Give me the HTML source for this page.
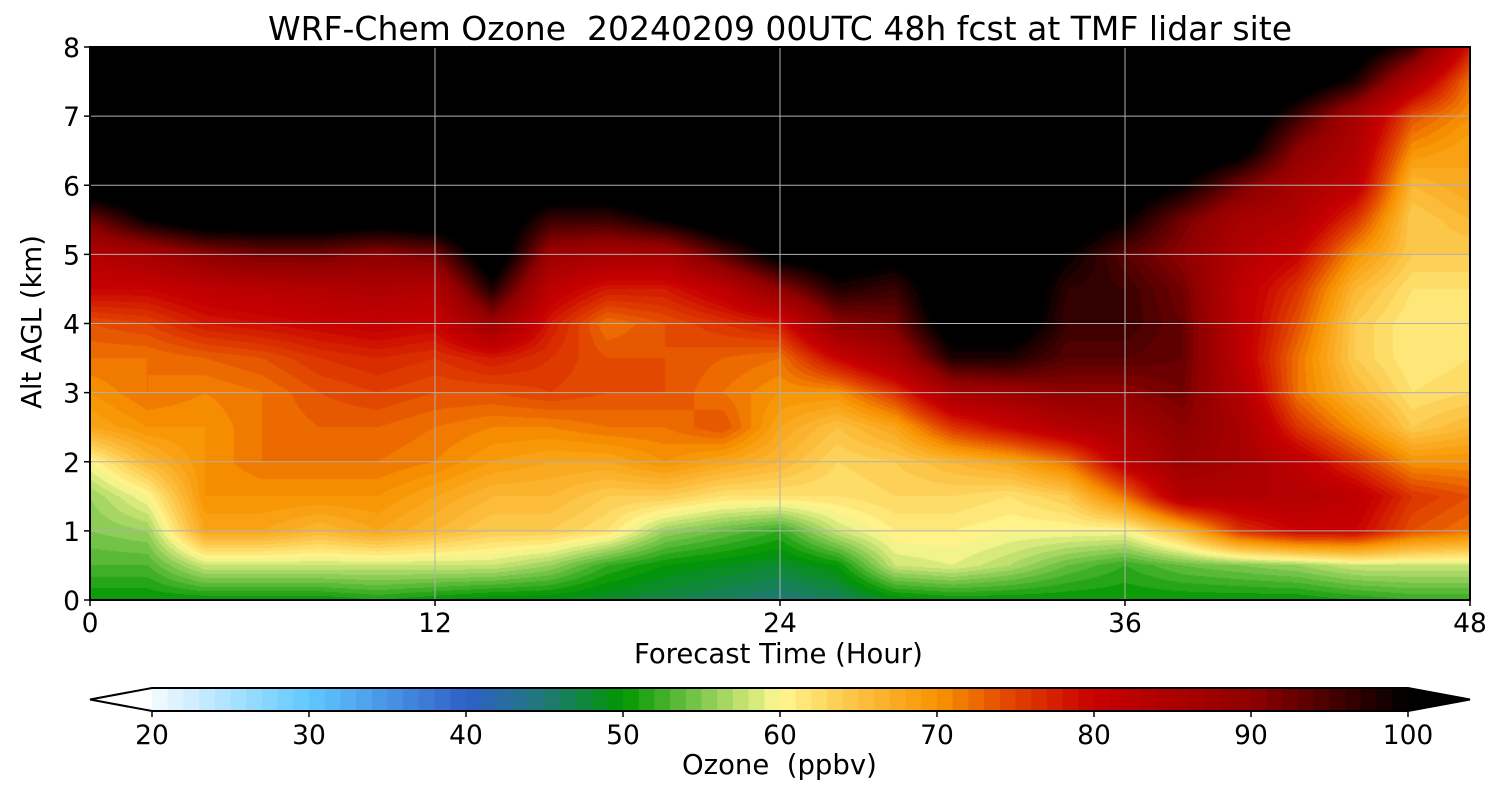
<!DOCTYPE html>
<html><head><meta charset="utf-8"><style>
body{margin:0;background:#fff;font-family:"DejaVu Sans","Liberation Sans",sans-serif;}
#wrap{position:relative;width:1500px;height:800px;overflow:hidden;}
.t{position:absolute;color:#000;white-space:nowrap;}
</style></head><body>
<div id="wrap">
<div class="t" style="left:0;width:1560px;top:9px;text-align:center;font-size:33px;">WRF-Chem Ozone&nbsp; 20240209 00UTC 48h fcst at TMF lidar site</div>
<canvas id="cv" width="1380" height="553" style="position:absolute;left:90px;top:47px;"></canvas>
<svg id="sv" width="1500" height="800" style="position:absolute;left:0;top:0;"></svg>
<div class="t" style="left:634px;top:638px;font-size:27.5px;">Forecast Time (Hour)</div>
<div class="t" style="left:-55px;top:306px;font-size:27.5px;transform:rotate(-90deg);">Alt AGL (km)</div>
<div class="t" style="left:682px;top:749px;font-size:27.5px;">Ozone&nbsp; (ppbv)</div>
</div>
<script>
const hours=[0,2,4,6,8,10,12,14,16,18,20,22,24,26,28,30,32,34,36,38,40,42,44,46,48];
const alts=[0,0.5,1,1.5,2,2.5,3,3.5,4,4.5,5,5.5,6,6.5,7,7.5,8];
const B=105;
const ozone=[
[50,53,55,56,60,68,70,72,74,80,84,92,B,B,B,B,B],
[50,53,56,60,66,70,72,72,75,80,86,100,B,B,B,B,B],
[50,58,68,70,70,70,71,73,78,82,90,104,B,B,B,B,B],
[50,58,68,70,72,72,72,74,79,83,92,104,B,B,B,B,B],
[50,58,66,70,72,73,74,76,80,84,92,104,B,B,B,B,B],
[51,58,68,70,72,73,75,77,81,85,90,103,B,B,B,B,B],
[50,58,66,68,71,72,74,76,80,84,92,104,B,B,B,B,B],
[49,58,64,66,69,71,74,78,88,98,B,B,B,B,B,B,B],
[49,56,64,66,68,71,75,76,78,82,88,96,B,B,B,B,B],
[48,52,62,64,68,72,74,74,72,78,86,96,B,B,B,B,B],
[47,50,56,64,70,72,74,74,74,78,86,100,B,B,B,B,B],
[46,49,54,62,68,74,72,73,76,82,94,B,B,B,B,B,B],
[45,48,52,62,66,68,70,72,78,90,102,B,B,B,B,B,B],
[46,50,58,62,63,65,70,80,90,98,104,B,B,B,B,B,B],
[49,58,61,63,64,68,76,86,92,96,102,B,B,B,B,B,B],
[50,59,61,63,66,76,86,98,104,B,B,B,B,B,B,B,B],
[50,57,60,62,68,80,88,98,104,B,B,B,B,B,B,B,B],
[50,54,60,64,72,84,90,94,96,97,100,104,B,B,B,B,B],
[50,52,60,72,82,86,90,94,96,96,94,100,104,B,B,B,B],
[50,54,66,84,88,90,92,93,93,92,90,92,100,B,B,B,B],
[50,55,76,84,86,86,84,82,82,82,84,86,92,102,B,B,B],
[50,56,80,84,82,76,72,72,74,76,80,84,86,90,96,104,B],
[51,58,80,82,76,70,66,64,64,66,70,76,82,84,86,98,104],
[52,58,74,76,70,64,62,61,61,62,64,64,66,70,74,84,96],
[52,58,72,74,70,66,63,62,62,62,64,66,68,68,70,72,78]];
const xTicks=[0,12,24,36,48];
const yTicks=[0,1,2,3,4,5,6,7,8];
const cbTicks=[20,30,40,50,60,70,80,90,100];

const stops=[[20,[245,250,255]],[30,[96,200,255]],[40,[48,96,200]],[45,[32,120,120]],[50,[0,150,0]],[55,[128,200,80]],[60,[255,248,144]],[65,[252,192,64]],[70,[248,148,0]],[75,[224,64,0]],[80,[200,0,0]],[90,[144,0,0]],[100,[0,0,0]]];
function cmap(v){
  if(v<=20)return [255,255,255]; if(v>=100)return [0,0,0];
  v=Math.floor(v)+0.5;
  for(let i=0;i<stops.length-1;i++){const a=stops[i],b=stops[i+1];
    if(v>=a[0]&&v<=b[0]){const f=(v-a[0])/(b[0]-a[0]);return a[1].map((c,k)=>Math.round(c+(b[1][k]-c)*f));}}
  return [0,0,0];
}
const X0=90,X1=1470,Y0=600,Y1=47;
const xs=h=>X0+(h-0)/48*(X1-X0);
const ys=a=>Y0-(a-0)/8*(Y0-Y1);
function interp(arr,v){let i=0;while(i<arr.length-2&&v>arr[i+1])i++;return [i,(v-arr[i])/(arr[i+1]-arr[i])];}
const cv=document.getElementById('cv'),ctx=cv.getContext('2d');
const W=cv.width,H=cv.height,img=ctx.createImageData(W,H);
for(let py=0;py<H;py++){
  const a=8*(1-(py+0.5)/H);const [j,fy]=interp(alts,a);
  for(let px=0;px<W;px++){
    const h=48*(px+0.5)/W;const [i,fx]=interp(hours,h);
    const v=(ozone[i][j]*(1-fx)+ozone[i+1][j]*fx)*(1-fy)+(ozone[i][j+1]*(1-fx)+ozone[i+1][j+1]*fx)*fy;
    const c=cmap(v);const o=(py*W+px)*4;
    img.data[o]=c[0];img.data[o+1]=c[1];img.data[o+2]=c[2];img.data[o+3]=255;
  }
}
ctx.putImageData(img,0,0);
const NS='http://www.w3.org/2000/svg',sv=document.getElementById('sv');
const FF='DejaVu Sans, Liberation Sans, sans-serif';
function el(t,at,txt){const e=document.createElementNS(NS,t);for(const k in at)e.setAttribute(k,at[k]);if(txt!==undefined)e.textContent=txt;sv.appendChild(e);return e;}
xTicks.forEach(t=>{
  const g=el('line',{x1:xs(t),x2:xs(t),y1:Y1,y2:Y0,stroke:'#b0b0b0','stroke-width':1});
  
  
  const tk=el('line',{x1:xs(t),x2:xs(t),y1:Y0,y2:Y0+6,stroke:'#000','stroke-width':1.5});
  
  
  const l=el('text',{x:xs(t),y:Y0+32,'text-anchor':'middle','font-size':26.5,'font-family':FF},t);
  
  
});
yTicks.forEach(t=>{
  const g=el('line',{x1:X0,x2:X1,y1:ys(t),y2:ys(t),stroke:'#b0b0b0','stroke-width':1});
  
  
  const tk=el('line',{x1:X0-6,x2:X0,y1:ys(t),y2:ys(t),stroke:'#000','stroke-width':1.5});
  
  
  const l=el('text',{x:X0-10,y:ys(t)+10,'text-anchor':'end','font-size':26.5,'font-family':FF},t);
  
  
});
const fr=el('rect',{x:X0,y:Y1,width:X1-X0,height:Y0-Y1,fill:'none',stroke:'#000','stroke-width':2});


const C0=152,C1=1408,CT=688,CB=711;
const cx=v=>C0+(v-20)/80*(C1-C0);
for(let v=20;v<100;v++){
  const c=cmap(v+0.5);
  const r=el('rect',{x:cx(v),y:CT,width:(C1-C0)/80+0.6,height:CB-CT,fill:`rgb(${c[0]},${c[1]},${c[2]})`});
  
  
}
const lt=el('polygon',{points:`${C0},${CT} 90,${(CT+CB)/2} ${C0},${CB}`,fill:'#fff',stroke:'none'});


const rt=el('polygon',{points:`${C1},${CT} 1470,${(CT+CB)/2} ${C1},${CB}`,fill:'#000'});


const ob=el('polygon',{points:`90,${(CT+CB)/2} ${C0},${CT} ${C1},${CT} 1470,${(CT+CB)/2} ${C1},${CB} ${C0},${CB}`,fill:'none',stroke:'#000','stroke-width':2});


cbTicks.forEach(t=>{
  const tk=el('line',{x1:cx(t),x2:cx(t),y1:CB,y2:CB+6,stroke:'#000','stroke-width':1.5});
  
  
  const l=el('text',{x:cx(t),y:CB+33,'text-anchor':'middle','font-size':26.5,'font-family':FF},t);
  
  
});
</script>
</body></html>
